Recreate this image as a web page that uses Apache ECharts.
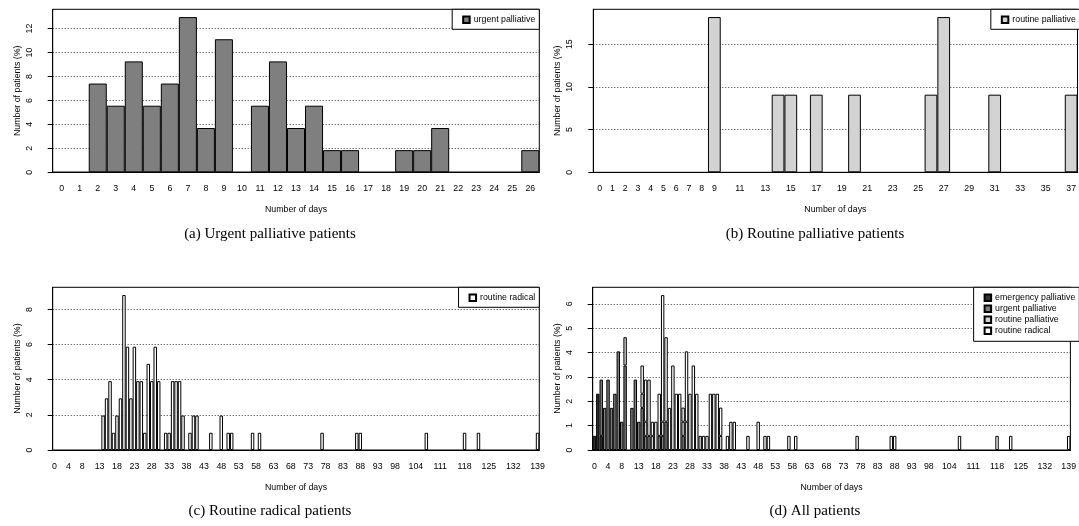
<!DOCTYPE html>
<html>
<head>
<meta charset="utf-8">
<script src="https://cdn.jsdelivr.net/npm/echarts@6/dist/echarts.min.js"></script>
<style>
html, body { margin: 0; padding: 0; background: #fff; }
#chart { width: 1079px; height: 526px; }
</style>
</head>
<body>
<div id="chart"></div>
<script>
// x categories (days)
var daysA = [0,1,2,3,4,5,6,7,8,9,10,11,12,13,14,15,16,17,18,19,20,21,22,23,24,25,26];
var daysB = [0,1,2,3,4,5,6,7,8,9,10,11,12,13,14,15,16,17,18,19,20,21,22,23,24,25,26,27,28,29,
    30,31,32,33,34,35,36,37];
var daysCD = [0,1,2,3,4,5,6,7,8,9,10,11,12,13,14,15,16,17,18,19,
    20,21,22,23,24,25,26,27,28,29,30,31,32,33,34,35,36,37,38,39,
    40,41,42,43,44,45,46,47,48,49,50,51,52,53,54,55,56,57,58,59,
    60,61,62,63,64,65,66,67,68,69,70,71,72,73,74,75,76,77,78,79,
    80,81,82,83,84,85,86,87,88,89,90,91,92,93,94,95,96,97,98,99,
    100,101,102,103,104,105,106,107,108,109,110,111,112,113,114,115,116,117,118,119,
    120,121,122,123,124,125,126,127,128,129,130,131,132,133,134,135,136,137,138,139];

// tick labels that are printed (the others were dropped for overlap)
var labelsB = [0,1,2,3,4,5,6,7,8,9,11,13,15,17,19,21,23,25,27,29,31,33,35,37];
var labelsCD = [0,4,8,13,18,23,28,33,38,43,48,53,58,63,68,73,78,83,88,93,98,104,111,118,125,132,139];

// y ticks
var ticksA = [0,2,4,6,8,10,12];
var ticksB = [0,5,10,15];
var ticksC = [0,2,4,6,8];
var ticksD = [0,1,2,3,4,5,6];

// (a) urgent palliative, % per day 0..26
var urgentPct = [0,0,7.41,5.56,9.26,5.56,7.41,12.96,3.70,11.11,0,5.56,9.26,3.70,5.56,1.85,1.85,0,0,1.85,1.85,3.70,0,0,0,0,1.85];

// (b) routine palliative
var routPallDays = [9,14,15,17,20,26,27,31,37];
var routPallPct = [18.18,9.09,9.09,9.09,9.09,9.09,18.18,9.09,9.09];

// (c) routine radical
var radicalDays = [14,15,16,17,18,19,20,21,22,23,24,25,26,27,28,29,30,32,33,34,35,36,37,39,40,41,
    45,48,50,51,57,59,77,87,88,107,118,122,139];
var radicalPct = [1.96,2.94,3.92,0.98,1.96,2.94,8.82,5.88,2.94,5.88,3.92,3.92,0.98,4.90,3.92,5.88,3.92,0.98,0.98,3.92,3.92,3.92,1.96,0.98,1.96,1.96,
    0.98,1.96,0.98,0.98,0.98,0.98,0.98,0.98,0.98,0.98,0.98,0.98,0.98];

// (d) all patients, stacked
var allEmergDays = [0,1,2];
var allEmergPct = [0.58,2.31,0.58];
var allUrgentDays = [2,3,4,5,6,7,8,9,11,12,13,14,15,16,19,20,21,26];
var allUrgentPct = [2.31,1.73,2.89,1.73,2.31,4.05,1.16,3.47,1.73,2.89,1.16,1.73,0.58,0.58,0.58,0.58,1.16,0.58];
var allRoutPallDays = [9,14,15,17,20,26,27,31,37];
var allRoutPallPct = [1.16,0.58,0.58,0.58,0.58,0.58,1.16,0.58,0.58];
var allRadicalDays = [14,15,16,17,18,19,20,21,22,23,24,25,26,27,28,29,30,32,33,34,35,36,37,39,40,41,
    45,48,50,51,57,59,77,87,88,107,118,122,139];
var allRadicalPct = [1.16,1.73,2.31,0.58,1.16,1.73,5.20,3.47,1.73,3.47,2.31,2.31,0.58,2.89,2.31,3.47,2.31,0.58,0.58,2.31,2.31,2.31,1.16,0.58,1.16,1.16,
    0.58,1.16,0.58,0.58,0.58,0.58,0.58,0.58,0.58,0.58,0.58,0.58,0.58];

var FONT = 'Liberation Sans, Arial, sans-serif';
var SERIF = 'Liberation Serif, DejaVu Serif, serif';
var FS = 8.8;

var COL_EMERG = '#333333';
var COL_URGENT = '#7f7f7f';
var COL_ROUTPALL = '#d3d3d3';
var COL_RADICAL = '#ffffff';

function toDense(days, pct, n) {
    var out = [];
    for (var i = 0; i < n; i++) out.push(null);
    for (var j = 0; j < days.length; j++) out[days[j]] = pct[j];
    return out;
}

function makeX(grid, days, shown) {
    return {
        type: 'category',
        gridIndex: grid,
        data: days,
        axisLine: { lineStyle: { color: '#000', width: 1 } },
        axisTick: { alignWithLabel: true, interval: 0, length: 4.5, lineStyle: { color: '#000' } },
        axisLabel: {
            interval: shown ? function(idx, val) { return shown.indexOf(Number(val)) >= 0; } : 0,
            color: '#000', fontSize: FS, fontFamily: FONT, margin: 12
        },
        splitLine: { show: false },
        name: 'Number of days',
        nameLocation: 'middle',
        nameGap: 33,
        nameTextStyle: { color: '#000', fontSize: FS, fontFamily: FONT }
    };
}

function makeY(grid, max, ticks) {
    return {
        type: 'value',
        gridIndex: grid,
        min: 0,
        max: max,
        interval: ticks[1] - ticks[0],
        axisLine: { show: true, lineStyle: { color: '#000' } },
        axisTick: { show: true, length: 5, customValues: ticks, lineStyle: { color: '#000' } },
        axisLabel: { rotate: 90, margin: 19, customValues: ticks, color: '#000', fontSize: FS, fontFamily: FONT },
        splitLine: { show: true, lineStyle: { color: '#000', type: [1, 2], width: 0.8 } },
        name: 'Number of patients (%)',
        nameLocation: 'middle',
        nameGap: 31,
        nameTextStyle: { color: '#000', fontSize: FS, fontFamily: FONT }
    };
}

function makeBar(name, grid, data, color, stack) {
    var s = {
        name: name,
        type: 'bar',
        xAxisIndex: grid,
        yAxisIndex: grid,
        data: data,
        barWidth: '100%',
        barGap: '0%',
        itemStyle: { color: color, borderColor: '#000', borderWidth: 1 },
        emphasis: { disabled: true },
        silent: true
    };
    if (stack) s.stack = stack;
    return s;
}

function makeLegend(names, right, top, vertical, pad) {
    return {
        data: names,
        right: right,
        top: top,
        orient: vertical ? 'vertical' : 'horizontal',
        icon: 'rect',
        itemWidth: 6.5,
        itemHeight: 6.5,
        itemGap: 2,
        selectedMode: false,
        padding: pad,
        backgroundColor: '#fff',
        borderColor: '#000',
        borderWidth: 1,
        borderRadius: 0,
        textStyle: { color: '#000', fontSize: FS, fontFamily: FONT, padding: [0, 0, 0, -1] }
    };
}

function caption(text, x, y) {
    return {
        type: 'text',
        x: x,
        y: y,
        style: { text: text, fill: '#000', font: '15px ' + SERIF, textAlign: 'center', textVerticalAlign: 'middle' }
    };
}

var chart = echarts.init(document.getElementById('chart'));

var option = {
    animation: false,
    grid: [
        { left: 52.7, top: 9.3, width: 486.6, height: 163, show: true, borderColor: '#000', borderWidth: 1 },
        { left: 593.3, top: 9.3, width: 486.6, height: 163, show: true, borderColor: '#000', borderWidth: 1 },
        { left: 52.7, top: 287.3, width: 486.6, height: 162.7, show: true, borderColor: '#000', borderWidth: 1 },
        { left: 592.7, top: 287.3, width: 486.6, height: 162.7, show: true, borderColor: '#000', borderWidth: 1 }
    ],
    xAxis: [
        makeX(0, daysA, null),
        makeX(1, daysB, labelsB),
        makeX(2, daysCD, labelsCD),
        makeX(3, daysCD, labelsCD)
    ],
    yAxis: [
        makeY(0, 13.61, ticksA),
        makeY(1, 19.09, ticksB),
        makeY(2, 9.26, ticksC),
        makeY(3, 6.68, ticksD)
    ],
    legend: [
        makeLegend(['urgent palliative'], 1079 - 539.3, 9.3, false, [6, 4, 5, 10]),
        makeLegend(['routine palliative'], 1079 - 1079.9, 9.3, false, [6, 4, 5, 10]),
        makeLegend(['routine radical'], 1079 - 539.3, 287.3, false, [6, 4, 5, 10]),
        makeLegend(['emergency palliative', 'urgent palliative', 'routine palliative', 'routine radical'],
            1079 - 1079.3, 287.3, true, [6, 4, 6, 10])
    ],
    series: [
        makeBar('urgent palliative', 0, urgentPct, COL_URGENT),
        makeBar('routine palliative', 1, toDense(routPallDays, routPallPct, daysB.length), COL_ROUTPALL),
        makeBar('routine radical', 2, toDense(radicalDays, radicalPct, daysCD.length), COL_RADICAL),
        makeBar('emergency palliative', 3, toDense(allEmergDays, allEmergPct, daysCD.length), COL_EMERG, 'all'),
        makeBar('urgent palliative', 3, toDense(allUrgentDays, allUrgentPct, daysCD.length), COL_URGENT, 'all'),
        makeBar('routine palliative', 3, toDense(allRoutPallDays, allRoutPallPct, daysCD.length), COL_ROUTPALL, 'all'),
        makeBar('routine radical', 3, toDense(allRadicalDays, allRadicalPct, daysCD.length), COL_RADICAL, 'all')
    ],
    graphic: [
        caption('(a) Urgent palliative patients', 270, 234),
        caption('(b) Routine palliative patients', 815, 234),
        caption('(c) Routine radical patients', 270, 511),
        caption('(d) All patients', 815, 511)
    ]
};

chart.setOption(option);
</script>
</body>
</html>
